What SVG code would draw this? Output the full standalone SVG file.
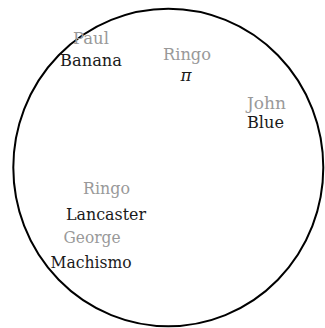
<svg xmlns="http://www.w3.org/2000/svg" width="325" height="328" viewBox="0 0 325 328">
<style>
text{font-size:17px;text-anchor:middle;font-stretch:condensed}
.k{fill:#999999}
.v{fill:#1a1a1a}
.pi{font-style:italic;font-size:16px}
.shape{fill:none;stroke:#000;stroke-width:2}
</style>
<rect width="325" height="328" fill="#fff"/>
<g id="boundary">
<ellipse class="shape" cx="168.3" cy="167.5" rx="155" ry="158.8"/>
</g>
<g id="connectors"/>
<g font-family="'DejaVu Serif Condensed', 'DejaVu Serif', 'Liberation Serif', serif">
<g id="paul">
<text class="k" x="91" y="44" textLength="36" lengthAdjust="spacingAndGlyphs">Paul</text>
<text class="v" x="91" y="65.7" textLength="62" lengthAdjust="spacingAndGlyphs">Banana</text>
</g>
<g id="ringo1">
<text class="k" x="187" y="60" textLength="48" lengthAdjust="spacingAndGlyphs">Ringo</text>
<text class="v pi" x="186" y="81" textLength="11" lengthAdjust="spacingAndGlyphs">π</text>
</g>
<g id="john">
<text class="k" x="266.5" y="108.5" textLength="39" lengthAdjust="spacingAndGlyphs">John</text>
<text class="v" x="265.5" y="128" textLength="37" lengthAdjust="spacingAndGlyphs">Blue</text>
</g>
<g id="ringo2">
<text class="k" x="106.5" y="194" textLength="47" lengthAdjust="spacingAndGlyphs">Ringo</text>
<text class="v" x="106" y="219.5" textLength="80" lengthAdjust="spacingAndGlyphs">Lancaster</text>
</g>
<g id="george">
<text class="k" x="92" y="243.3" textLength="57" lengthAdjust="spacingAndGlyphs">George</text>
<text class="v" x="91" y="268.3" textLength="81" lengthAdjust="spacingAndGlyphs">Machismo</text>
</g>
</g>
</svg>
